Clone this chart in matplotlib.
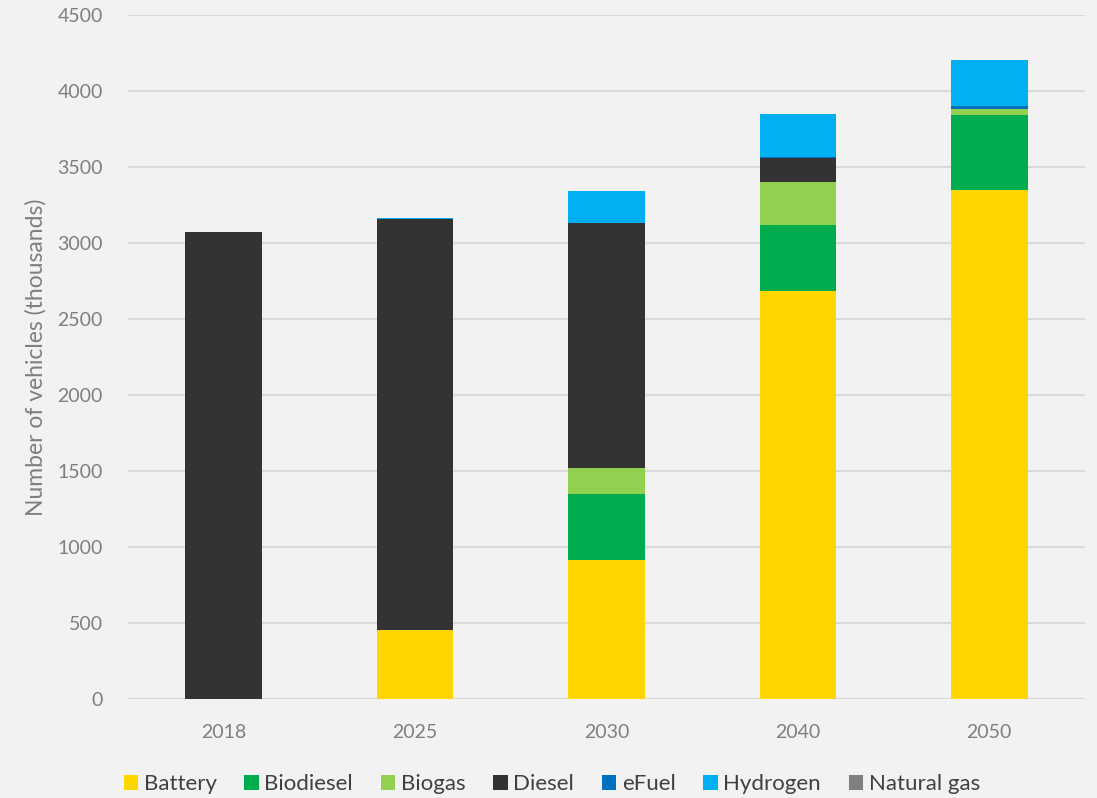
import matplotlib.pyplot as plt
import numpy as np

years = ['2018', '2025', '2030', '2040', '2050']
fuels = ['Battery', 'Biodiesel', 'Biogas', 'Diesel', 'eFuel', 'Hydrogen', 'Natural gas']

# vehicles per year in thousands
battery = [0, 454, 914, 2684, 3349]
biodiesel = [0, 0, 435, 434, 493]
biogas = [0, 0, 171, 285, 38]
diesel = [3072, 2704, 1612, 154, 0]
efuel = [0, 0, 0, 8, 23]
hydrogen = [0, 5, 210, 282, 303]
natural_gas = [0, 0, 0, 0, 0]

colors = ['#ffd600', '#00ad4e', '#92d050', '#333333', '#0070c0', '#00b0f0', '#7f7f7f']
series = [battery, biodiesel, biogas, diesel, efuel, hydrogen, natural_gas]

plt.rcParams['font.family'] = ['Lato', 'DejaVu Sans']

fig = plt.figure(figsize=(10.97, 7.98), dpi=100, facecolor='#f2f2f2')
ax = fig.add_axes([128 / 1097, 99 / 798, 957 / 1097, 684 / 798])
ax.set_facecolor('#f2f2f2')

x = np.arange(len(years))
bottom = np.zeros(len(years))
for name, vals, c in zip(fuels, series, colors):
    ax.bar(x, vals, 0.4, bottom=bottom, color=c, label=name, zorder=3)
    bottom += np.array(vals)

ax.set_xlim(-0.5, 4.5)
ax.set_ylim(0, 4500)
ax.set_yticks(range(0, 4501, 500))
ax.set_xticks(x)
ax.set_xticklabels(years)
ax.grid(axis='y', color='#d9d9d9', linewidth=1.5, zorder=0)
for s in ax.spines.values():
    s.set_visible(False)
ax.tick_params(length=0, labelsize=14, labelcolor='#7f7f7f')
ax.tick_params(axis='y', pad=18)
ax.tick_params(axis='x', pad=18)
ax.set_ylabel('Number of vehicles (thousands)', fontsize=16.5, color='#7f7f7f', labelpad=8)

leg = fig.legend(loc='lower center', bbox_to_anchor=(0.503, -0.02), ncol=7, frameon=False,
                 fontsize=16, handlelength=0.65, handleheight=0.65, handletextpad=0.25,
                 columnspacing=1.25)
for t in leg.get_texts():
    t.set_color('#404040')

fig.savefig('out.png', dpi=100, facecolor=fig.get_facecolor())
